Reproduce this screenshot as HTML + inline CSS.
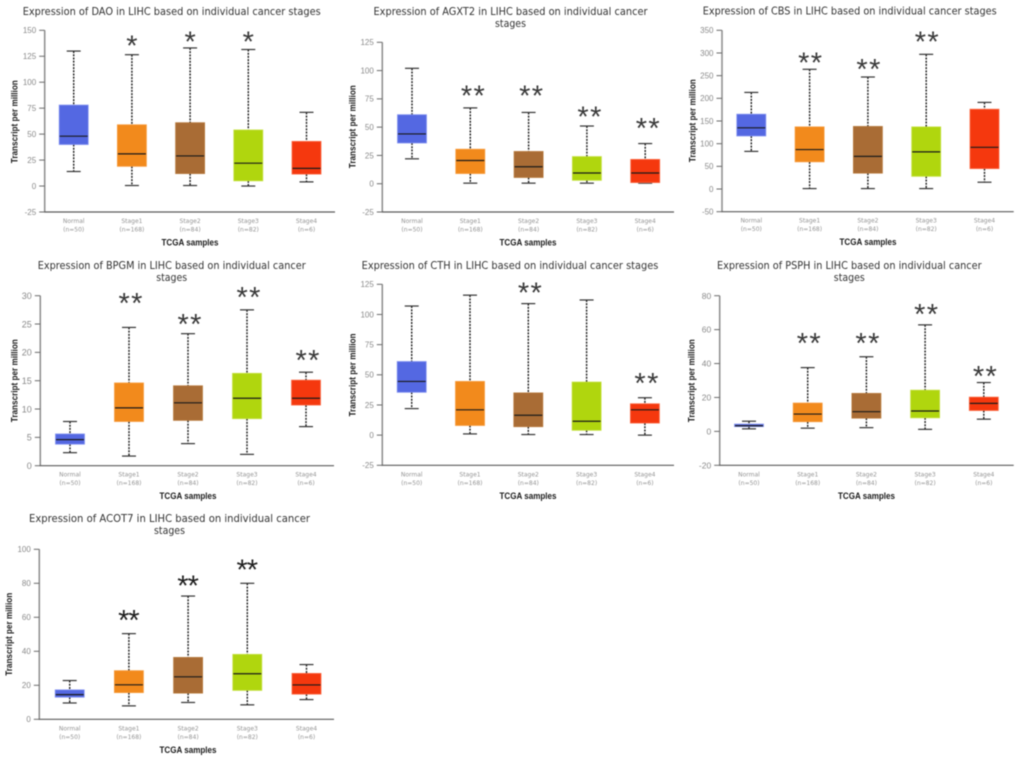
<!DOCTYPE html>
<html lang="en">
<head>
<meta charset="utf-8">
<title>Gene expression in LIHC by cancer stage</title>
<style>
html,body{margin:0;padding:0;background:#fff;width:1020px;height:760px;overflow:hidden}
svg{display:block;filter:blur(0.45px)}
.title{font-family:"DejaVu Sans","Liberation Sans",sans-serif;fill:#333;font-size:10.5px}
.tick{font-family:"Liberation Sans",sans-serif;fill:#8a8a8a;text-anchor:end}
.cat{font-family:"DejaVu Sans","Liberation Sans",sans-serif;fill:#949494;font-size:6px;text-anchor:middle}
.axt{font-family:"Liberation Sans",sans-serif;fill:#1a1a1a;font-weight:bold;font-size:8.8px}
.star{font-family:"Liberation Sans",sans-serif;fill:#3a3a3a;font-size:29px;text-anchor:middle}
</style>
</head>
<body>
<svg id="fig" width="1020" height="760" viewBox="0 0 1020 760" xmlns="http://www.w3.org/2000/svg"></svg>
<script>
const categories = ['Normal', 'Stage1', 'Stage2', 'Stage3', 'Stage4'];
const sampleCounts = ['(n=50)', '(n=168)', '(n=84)', '(n=82)', '(n=6)'];
const boxColors = ['#5468e2', '#f28a1c', '#a96c35', '#b0d60e', '#f5380e'];
const boxEdges = ['#8090f0', '#f79a3a', '#b87a3c', '#c4e040', '#fa6a45'];

const daoTicks = [-25, 0, 25, 50, 75, 100, 125, 150];
const daoLow = [14, 0.5, 0.5, 0, 4];
const daoQ1 = [40, 19, 12, 5, 11.5];
const daoMedian = [48, 31, 29, 22, 17];
const daoQ3 = [78, 59, 61, 54, 43];
const daoHigh = [130, 126.5, 133, 131.5, 71];
const daoStars = [0, 1, 1, 1, 0];
const daoStarLevels = [0, 139, 143, 143, 0];

const agxt2Ticks = [-25, 0, 25, 50, 75, 100, 125];
const agxt2Low = [22, 0.5, 0.5, 0.5, 0.5];
const agxt2Q1 = [36, 9, 5.5, 3, 1];
const agxt2Median = [44, 20.5, 15, 9.5, 9.5];
const agxt2Q3 = [61, 30.5, 28.5, 24, 21.5];
const agxt2High = [102, 67, 63, 51, 35.5];
const agxt2Stars = [0, 2, 2, 2, 2];
const agxt2StarLevels = [0, 81.5, 81.5, 63, 52.6];

const cbsTicks = [-50, 0, 50, 100, 150, 200, 250, 300, 350];
const cbsLow = [83, 1, 1, 1, 15];
const cbsQ1 = [117, 60, 35, 28, 45];
const cbsMedian = [135, 87, 72, 82, 92];
const cbsQ3 = [165, 137, 138, 137, 176];
const cbsHigh = [213, 264, 247, 297, 191];
const cbsStars = [0, 2, 2, 2, 0];
const cbsStarLevels = [0, 288, 274, 334, 0];

const bpgmTicks = [0, 5, 10, 15, 20, 25, 30];
const bpgmLow = [2.3, 1.7, 3.9, 2, 6.9];
const bpgmQ1 = [3.8, 7.8, 8, 8.3, 10.7];
const bpgmMedian = [4.6, 10.2, 11.1, 11.9, 11.9];
const bpgmQ3 = [5.6, 14.6, 14.1, 16.3, 15.1];
const bpgmHigh = [7.8, 24.4, 23.3, 27.5, 16.5];
const bpgmStars = [0, 2, 2, 2, 2];
const bpgmStarLevels = [0, 29.4, 25.7, 30.5, 19.4];

const cthTicks = [-25, 0, 25, 50, 75, 100, 125];
const cthLow = [22, 1, 0.5, 0.5, 0];
const cthQ1 = [35.5, 8, 7, 4, 10];
const cthMedian = [44.5, 21, 16.5, 11.5, 21];
const cthQ3 = [61, 44.5, 35, 44, 26];
const cthHigh = [107, 116, 109, 112, 31];
const cthStars = [0, 0, 2, 0, 2];
const cthStarLevels = [0, 0, 121.7, 0, 46.5];

const psphTicks = [-20, 0, 20, 40, 60, 80];
const psphLow = [1.5, 1.9, 2.2, 1.2, 7.2];
const psphQ1 = [2.8, 5.7, 7.8, 8, 12.3];
const psphMedian = [3.3, 10.2, 11.6, 12, 16.5];
const psphQ3 = [4.3, 16.7, 22.4, 24.3, 20.2];
const psphHigh = [6, 37.6, 44, 62.8, 28.8];
const psphStars = [0, 2, 2, 2, 2];
const psphStarLevels = [0, 54.5, 54.5, 71.6, 35];

const acot7Ticks = [0, 20, 40, 60, 80, 100];
const acot7Low = [9.6, 7.9, 9.9, 8.5, 11.6];
const acot7Q1 = [13, 15.7, 15.4, 17, 14.8];
const acot7Median = [14.5, 20.3, 25, 26.8, 20.2];
const acot7Q3 = [17.3, 28.6, 36.4, 38.2, 27];
const acot7High = [22.8, 50.4, 72.5, 80, 32.2];
const acot7Stars = [0, 2, 2, 2, 0];
const acot7StarLevels = [0, 60.8, 81.2, 90.6, 0];

const svg = document.getElementById('fig');
const NS = 'http://www.w3.org/2000/svg';

function make(parent, tag, attrs, text) {
  const el = document.createElementNS(NS, tag);
  for (const k in attrs) el.setAttribute(k, attrs[k]);
  if (text !== undefined) el.textContent = text;
  parent.appendChild(el);
  return el;
}

function yAxisScale(p) {
  const lo = p.ticks[0];
  const hi = p.ticks[p.ticks.length - 1];
  return v => p.bottom - (v - lo) / (hi - lo) * (p.bottom - p.top);
}

function xAxisScale(p) {
  return i => p.firstX + i * p.stepX;
}

function drawTitle(g, p) {
  p.titleLines.forEach((line, i) => {
    const t = make(g, 'text', {
      class: 'title', x: p.titleX - line.w / 2, y: p.titleY + i * 12,
      textLength: line.w, lengthAdjust: 'spacingAndGlyphs'
    }, line.s);
    
    
  });
}

function drawAxes(g, p, y, x) {
  const yLine = make(g, 'line', { x1: p.axisX, x2: p.axisX, y1: p.top, y2: p.bottom, stroke: '#8c8c8c', 'stroke-width': 1.5 });
  
  
  const xLine = make(g, 'line', { x1: p.axisX - 0.7, x2: p.right, y1: p.bottom, y2: p.bottom, stroke: '#5a5a5a', 'stroke-width': 1.2 });
  
  
  p.ticks.forEach(v => {
    const m = make(g, 'line', { x1: p.axisX - 5.5, x2: p.axisX, y1: y(v), y2: y(v), stroke: '#6a6a6a', 'stroke-width': 1 });
    
    
    const l = make(g, 'text', { class: 'tick', x: p.axisX - 8.5, y: y(v) + p.tickSize * 0.36, 'font-size': p.tickSize }, String(v));
    
    
  });
  categories.forEach((c, i) => {
    const a = make(g, 'text', { class: 'cat', x: x(i), y: p.bottom + 11 }, c);
    
    
    const b = make(g, 'text', { class: 'cat', x: x(i), y: p.bottom + 19.5 }, sampleCounts[i]);
    
    
  });
  const xt = make(g, 'text', { class: 'axt', x: p.xTitleX - 28.5, y: p.bottom + 33.5, textLength: 57, lengthAdjust: 'spacingAndGlyphs' }, 'TCGA samples');
  
  
  const yt = make(g, 'text', { class: 'axt', textLength: 83, lengthAdjust: 'spacingAndGlyphs', transform: 'translate(' + (p.yTitleX + 3) + ',' + (p.yTitleY + 41.5) + ') rotate(-90)' }, 'Transcript per million');
  
  
}

function drawBoxes(g, p, y, x) {
  const boxW = 29, capW = 14;
  categories.forEach((c, i) => {
    const cx = x(i);
    const item = make(g, 'g', {});
    
    
    const dash = { stroke: '#1c1c1c', 'stroke-width': 1.4, 'stroke-dasharray': '2 1.2' };
    const up = make(item, 'line', Object.assign({ x1: cx, x2: cx, y1: y(p.high[i]), y2: y(p.q3[i]) }, dash));
    
    
    const down = make(item, 'line', Object.assign({ x1: cx, x2: cx, y1: y(p.q1[i]), y2: y(p.low[i]) }, dash));
    
    
    const capHi = make(item, 'line', { x1: cx - capW / 2, x2: cx + capW / 2, y1: y(p.high[i]), y2: y(p.high[i]), stroke: '#333', 'stroke-width': 1.2 });
    
    
    const capLo = make(item, 'line', { x1: cx - capW / 2, x2: cx + capW / 2, y1: y(p.low[i]), y2: y(p.low[i]), stroke: '#333', 'stroke-width': 1.2 });
    
    
    const r = make(item, 'rect', {
      x: cx - boxW / 2, y: y(p.q3[i]), width: boxW, height: y(p.q1[i]) - y(p.q3[i]),
      fill: boxColors[i], stroke: boxEdges[i], 'stroke-width': 0.8
    });
    
    
    const med = make(item, 'line', { x1: cx - boxW / 2 + 0.5, x2: cx + boxW / 2 - 0.5, y1: y(p.median[i]), y2: y(p.median[i]), stroke: '#1a1a1a', 'stroke-width': 1.2 });
    
    
    if (p.stars[i] > 0) {
      const s = make(g, 'text', {
        class: 'star', x: cx + p.starDx, y: y(p.starLevels[i]) + 14,
        'letter-spacing': p.starGap, style: 'fill:' + p.starFill
      }, '*'.repeat(p.stars[i]));
      
      
    }
  });
}

const panels = [
  { id: 'dao', ticks: daoTicks, low: daoLow, q1: daoQ1, median: daoMedian, q3: daoQ3, high: daoHigh, stars: daoStars, starLevels: daoStarLevels,
    axisX: 44.7, right: 335, top: 30.3, bottom: 212, firstX: 73.7, stepX: 58.2, tickSize: 8, starDx: 0, starGap: 0, starFill: '#3a3a3a',
    titleX: 171.7, titleY: 15, titleLines: [{ s: 'Expression of DAO in LIHC based on individual cancer stages', w: 298 }],
    xTitleX: 190, yTitleX: 14.3, yTitleY: 121.7 },
  { id: 'agxt2', ticks: agxt2Ticks, low: agxt2Low, q1: agxt2Q1, median: agxt2Median, q3: agxt2Q3, high: agxt2High, stars: agxt2Stars, starLevels: agxt2StarLevels,
    axisX: 382.3, right: 674, top: 42.3, bottom: 212, firstX: 412, stepX: 58.3, tickSize: 8, starDx: 3.2, starGap: 1.4, starFill: '#3a3a3a',
    titleX: 510.5, titleY: 15, titleLines: [{ s: 'Expression of AGXT2 in LIHC based on individual cancer', w: 274 }, { s: 'stages', w: 31 }],
    xTitleX: 528, yTitleX: 352.7, yTitleY: 126.7 },
  { id: 'cbs', ticks: cbsTicks, low: cbsLow, q1: cbsQ1, median: cbsMedian, q3: cbsQ3, high: cbsHigh, stars: cbsStars, starLevels: cbsStarLevels,
    axisX: 722, right: 1013.7, top: 30.3, bottom: 211.7, firstX: 751.3, stepX: 58.3, tickSize: 8, starDx: 1.2, starGap: 1.4, starFill: '#3a3a3a',
    titleX: 849.7, titleY: 14.5, titleLines: [{ s: 'Expression of CBS in LIHC based on individual cancer stages', w: 294 }],
    xTitleX: 868, yTitleX: 692.3, yTitleY: 120.7 },
  { id: 'bpgm', ticks: bpgmTicks, low: bpgmLow, q1: bpgmQ1, median: bpgmMedian, q3: bpgmQ3, high: bpgmHigh, stars: bpgmStars, starLevels: bpgmStarLevels,
    axisX: 40.3, right: 334, top: 295.7, bottom: 465.7, firstX: 70, stepX: 59, tickSize: 9, starDx: 2.2, starGap: 1.4, starFill: '#3a3a3a',
    titleX: 171.7, titleY: 269, titleLines: [{ s: 'Expression of BPGM in LIHC based on individual cancer', w: 268 }, { s: 'stages', w: 31 }],
    xTitleX: 188, yTitleX: 14.7, yTitleY: 380.7 },
  { id: 'cth', ticks: cthTicks, low: cthLow, q1: cthQ1, median: cthMedian, q3: cthQ3, high: cthHigh, stars: cthStars, starLevels: cthStarLevels,
    axisX: 382.3, right: 674, top: 284.3, bottom: 465.3, firstX: 411.7, stepX: 58.3, tickSize: 8, starDx: 2.2, starGap: 1.4, starFill: '#3a3a3a',
    titleX: 510, titleY: 269, titleLines: [{ s: 'Expression of CTH in LIHC based on individual cancer stages', w: 296.7 }],
    xTitleX: 528, yTitleX: 352.7, yTitleY: 375 },
  { id: 'psph', ticks: psphTicks, low: psphLow, q1: psphQ1, median: psphMedian, q3: psphQ3, high: psphHigh, stars: psphStars, starLevels: psphStarLevels,
    axisX: 719.7, right: 1013.7, top: 295.7, bottom: 465.3, firstX: 749, stepX: 58.7, tickSize: 8.5, starDx: 1.7, starGap: 1.4, starFill: '#3a3a3a',
    titleX: 849.3, titleY: 269, titleLines: [{ s: 'Expression of PSPH in LIHC based on individual cancer', w: 264.7 }, { s: 'stages', w: 31 }],
    xTitleX: 866.5, yTitleX: 691.7, yTitleY: 380.7 },
  { id: 'acot7', ticks: acot7Ticks, low: acot7Low, q1: acot7Q1, median: acot7Median, q3: acot7Q3, high: acot7High, stars: acot7Stars, starLevels: acot7StarLevels,
    axisX: 39.3, right: 334, top: 549.3, bottom: 719.3, firstX: 69.7, stepX: 59.2, tickSize: 8, starDx: -0.5, starGap: -1, starFill: '#1e1e1e',
    titleX: 169.5, titleY: 522, titleLines: [{ s: 'Expression of ACOT7 in LIHC based on individual cancer', w: 281 }, { s: 'stages', w: 31 }],
    xTitleX: 188, yTitleX: 9, yTitleY: 634.3 }
];

panels.forEach(p => {
  const g = make(svg, 'g', {});
  
  
  const y = yAxisScale(p);
  const x = xAxisScale(p);
  drawTitle(g, p);
  drawAxes(g, p, y, x);
  drawBoxes(g, p, y, x);
});
</script>
</body>
</html>
